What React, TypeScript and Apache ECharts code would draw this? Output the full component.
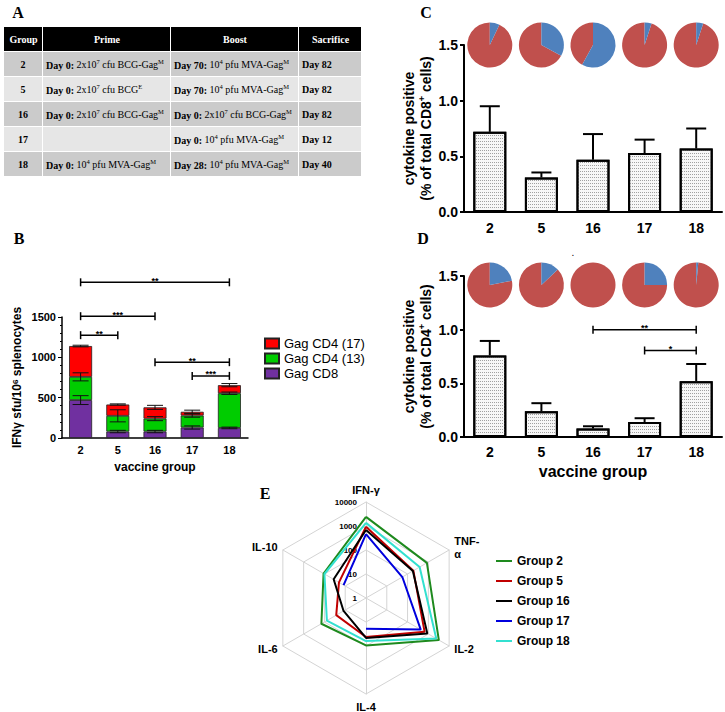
import React, { useEffect, useRef } from 'react';
import * as echarts from 'echarts';

// ---------- shared ----------
const groupLabels = ['2', '5', '16', '17', '18'];

// ---------- Panel A (table) ----------
const tableHeader = ['Group', 'Prime', 'Boost', 'Sacrifice'];
const tableGroup = ['2', '5', '16', '17', '18'];
const tablePrime = [
  '{b|Day 0:} 2x10{s|7} cfu BCG-Gag{s|M}',
  '{b|Day 0:} 2x10{s|7} cfu BCG{s|E}',
  '{b|Day 0:} 2x10{s|7} cfu BCG-Gag{s|M}',
  '',
  '{b|Day 0:} 10{s|4} pfu MVA-Gag{s|M}',
];
const tableBoost = [
  '{b|Day 70:} 10{s|4} pfu MVA-Gag{s|M}',
  '{b|Day 70:} 10{s|4} pfu MVA-Gag{s|M}',
  '{b|Day 0:} 2x10{s|7} cfu BCG-Gag{s|M}',
  '{b|Day 0:} 10{s|4} pfu MVA-Gag{s|M}',
  '{b|Day 28:} 10{s|4} pfu MVA-Gag{s|M}',
];
const tableSacrifice = ['Day 82', 'Day 82', 'Day 82', 'Day 12', 'Day 40'];

// ---------- Panel B ----------
const bLegend = ['Gag CD4 (17)', 'Gag CD4 (13)', 'Gag CD8'];
const bCD8 = [470, 80, 80, 130, 125];
const bCD4_13 = [288, 195, 160, 148, 430];
const bCD4_17 = [382, 140, 140, 47, 100];
const bCD8Err = [55, 15, 15, 20, 10];
const bCD4_13Err = [50, 75, 25, 20, 15];
const bCD4_17Err = [10, 8, 25, 20, 20];
const bSigFrom = [0, 0, 0, 2, 3];
const bSigTo = [4, 2, 1, 4, 4];
const bSigLevel = [1930, 1510, 1275, 940, 770];
const bSigLabel = ['**', '***', '**', '**', '***'];

// ---------- Panel C ----------
const cVals = [0.72, 0.31, 0.47, 0.53, 0.57];
const cErr = [0.23, 0.045, 0.23, 0.12, 0.18];
const cBlueShare = [0.07, 0.33, 0.58, 0.05, 0.05];

// ---------- Panel D ----------
const dVals = [0.76, 0.24, 0.08, 0.14, 0.52];
const dErr = [0.135, 0.075, 0.02, 0.035, 0.16];
const dBlueShare = [0.22, 0.13, 0, 0.25, 0.015];
const dSigFrom = [2, 3];
const dSigTo = [4, 4];
const dSigLevel = [1.0, 0.806];
const dSigLabel = ['**', '*'];

// ---------- Panel E ----------
const eAxes = ['IFN-γ', 'TNF-\nα', 'IL-2', 'IL-4', 'IL-6', 'IL-10'];
const eGroups = ['Group 2', 'Group 5', 'Group 16', 'Group 17', 'Group 18'];
const eGroup2 = [2400, 850, 3200, 95, 140, 110];
const eGroup5 = [930, 190, 660, 42, 27, 20];
const eGroup16 = [680, 180, 890, 46, 12, 36];
const eGroup17 = [460, 56, 430, 19, null, 12];
const eGroup18 = [1350, 380, 2400, 62, 76, 100];

const SANS = 'Liberation Sans, Arial, Helvetica, sans-serif';
const SERIF = 'Liberation Serif, Times New Roman, serif';

function buildTableGraphics(): any[] {
  const els: any[] = [];
  const colX = [4, 43, 171, 299, 362];
  const headerTop = 27;
  const headerH = 24;
  for (let c = 0; c < 4; c++) {
    els.push({
      type: 'rect',
      shape: { x: colX[c], y: headerTop, width: colX[c + 1] - colX[c] - 1, height: headerH },
      style: { fill: '#000' },
    });
    els.push({
      type: 'text',
      x: (colX[c] + colX[c + 1]) / 2,
      y: headerTop + headerH / 2,
      style: {
        text: tableHeader[c],
        fill: '#fff',
        fontFamily: SERIF,
        fontWeight: 'bold',
        fontSize: 10,
        align: 'center',
        verticalAlign: 'middle',
      },
    });
  }
  const rich = {
    b: { fontFamily: SERIF, fontWeight: 'bold', fontSize: 10, fill: '#000', verticalAlign: 'bottom', lineHeight: 12 },
    s: { fontFamily: SERIF, fontSize: 6.5, fill: '#000', verticalAlign: 'top', lineHeight: 12 },
  };
  tableGroup.forEach((g, r) => {
    const top = 52 + r * 25;
    const fill = r % 2 === 0 ? '#cbcbcb' : '#e6e6e6';
    for (let c = 0; c < 4; c++) {
      els.push({
        type: 'rect',
        shape: { x: colX[c], y: top, width: colX[c + 1] - colX[c] - 1, height: 24 },
        style: { fill },
      });
    }
    const cy = top + 12;
    els.push({
      type: 'text', x: 23, y: cy,
      style: { text: g, fontFamily: SERIF, fontWeight: 'bold', fontSize: 10, fill: '#000', align: 'center', verticalAlign: 'middle' },
    });
    const cells = [tablePrime[r], tableBoost[r]];
    cells.forEach((t, k) => {
      if (!t) return;
      els.push({
        type: 'text', x: colX[k + 1] + 3, y: cy,
        style: { text: t, rich, fontFamily: SERIF, fontSize: 10, fill: '#000', align: 'left', verticalAlign: 'middle', lineHeight: 12 },
      });
    });
    els.push({
      type: 'text', x: colX[3] + 3, y: cy,
      style: { text: tableSacrifice[r], fontFamily: SERIF, fontWeight: 'bold', fontSize: 10, fill: '#000', align: 'left', verticalAlign: 'middle' },
    });
  });
  return els;
}

function letter(t: string, x: number, y: number) {
  return {
    type: 'text', x, y,
    style: { text: t, fontFamily: SERIF, fontWeight: 'bold', fontSize: 16, fill: '#000', align: 'center', verticalAlign: 'middle' },
  };
}

const upErrRender = (params: any, api: any) => {
  const i = api.value(0);
  const v = api.value(1);
  const e = api.value(2);
  const base = api.coord([i, v]);
  const top = api.coord([i, v + e]);
  const st = { stroke: '#000', lineWidth: 2 };
  return {
    type: 'group',
    children: [
      { type: 'line', shape: { x1: base[0], y1: base[1], x2: top[0], y2: top[1] }, style: st },
      { type: 'line', shape: { x1: top[0] - 10, y1: top[1], x2: top[0] + 10, y2: top[1] }, style: st },
    ],
  };
};

const bothErrRender = (params: any, api: any) => {
  const i = api.value(0);
  const v = api.value(1);
  const e = api.value(2);
  const lo = api.coord([i, v - e]);
  const hi = api.coord([i, v + e]);
  const st = { stroke: '#111', lineWidth: 1 };
  return {
    type: 'group',
    children: [
      { type: 'line', shape: { x1: lo[0], y1: lo[1], x2: hi[0], y2: hi[1] }, style: st },
      { type: 'line', shape: { x1: lo[0] - 8, y1: lo[1], x2: lo[0] + 8, y2: lo[1] }, style: st },
      { type: 'line', shape: { x1: hi[0] - 8, y1: hi[1], x2: hi[0] + 8, y2: hi[1] }, style: st },
    ],
  };
};

const bracketRender = (labels: string[], fs: number) => (params: any, api: any) => {
  const a = api.coord([api.value(0), api.value(2)]);
  const b = api.coord([api.value(1), api.value(2)]);
  const st = { stroke: '#000', lineWidth: 1.5 };
  return {
    type: 'group',
    children: [
      { type: 'line', shape: { x1: a[0], y1: a[1], x2: b[0], y2: b[1] }, style: st },
      { type: 'line', shape: { x1: a[0], y1: a[1] - 4, x2: a[0], y2: a[1] + 4 }, style: st },
      { type: 'line', shape: { x1: b[0], y1: b[1] - 4, x2: b[0], y2: b[1] + 4 }, style: st },
      {
        type: 'text',
        style: {
          text: labels[params.dataIndex], x: (a[0] + b[0]) / 2, y: a[1] + 3,
          align: 'center', verticalAlign: 'bottom', fontSize: fs, fontWeight: 'bold', fontFamily: SANS, fill: '#000',
        },
      },
    ],
  };
};

const pieRender = (level: number) => (params: any, api: any) => {
  const i = api.value(0);
  const f = api.value(1);
  const c = api.coord([i, level]);
  const r = 22.5;
  const start = -Math.PI / 2;
  const mid = start + 2 * Math.PI * f;
  const children: any[] = [
    { type: 'sector', shape: { cx: c[0], cy: c[1], r, r0: 0, startAngle: mid, endAngle: start + 2 * Math.PI, clockwise: true }, style: { fill: '#c0504d' } },
  ];
  if (f > 0) {
    children.push({ type: 'sector', shape: { cx: c[0], cy: c[1], r, r0: 0, startAngle: start, endAngle: mid, clockwise: true }, style: { fill: '#4f81bd' } });
  }
  return { type: 'group', children };
};

function buildOption(): any {
  const bold = { fontWeight: 'bold', color: '#000', fontFamily: SANS };
  const sup = { fontSize: 9, fontWeight: 'bold', verticalAlign: 'top', fontFamily: SANS, color: '#000' };

  const bErrData: number[][] = [];
  groupLabels.forEach((_, i) => {
    const t1 = bCD8[i];
    const t2 = t1 + bCD4_13[i];
    const t3 = t2 + bCD4_17[i];
    bErrData.push([i, t1, bCD8Err[i]], [i, t2, bCD4_13Err[i]], [i, t3, bCD4_17Err[i]]);
  });

  const barDecal = { symbol: 'rect', symbolSize: 1, dashArrayX: [1, 1], dashArrayY: [1, 2], color: '#a0a0a0' };
  const cdBarStyle = { color: '#f7f7f7', borderColor: '#000', borderWidth: 2, decal: barDecal };

  const radarOrder = [0, 5, 4, 3, 2, 1];
  const eData = [eGroup2, eGroup5, eGroup16, eGroup17, eGroup18];
  const eColors = ['#1e8a1e', '#c00000', '#000000', '#0000dd', '#33e0d0'];

  const polarData = (vals: (number | null)[]) => {
    const pts: any[] = vals.map((v, i) => [v == null ? '-' : Math.log10(v), i * 60]);
    pts.push([vals[0] == null ? '-' : Math.log10(vals[0] as number), 360]);
    return pts;
  };

  const yAxisCommon = (name: string, gi: number, fs: number) => ({
    type: 'value', gridIndex: gi, min: 0, max: 1.5, interval: 0.5,
    axisLine: { show: true, lineStyle: { color: '#000', width: 2 } },
    axisTick: { show: true, length: 4, lineStyle: { color: '#000', width: 2 } },
    splitLine: { show: false },
    axisLabel: { ...bold, fontSize: 14, margin: 6, formatter: (v: number) => v.toFixed(1) },
    name,
    nameLocation: 'middle',
    nameRotate: 90,
    nameGap: 24,
    nameTextStyle: { ...bold, fontSize: fs, lineHeight: 17, rich: { s: { ...sup, fontSize: 9 } } },
  });

  return {
    animation: false,
    backgroundColor: '#fff',
    textStyle: { fontFamily: SANS },
    grid: [
      { left: 62, top: 317, width: 186, height: 121 },
      { left: 464, top: 45, width: 258, height: 167 },
      { left: 464, top: 276, width: 258, height: 161 },
    ],
    xAxis: [
      {
        type: 'category', gridIndex: 0, data: groupLabels,
        axisLine: { lineStyle: { color: '#000', width: 1.5 } },
        axisTick: { alignWithLabel: true, length: 4, lineStyle: { color: '#000' } },
        axisLabel: { ...bold, fontSize: 11, margin: 6 },
        name: 'vaccine group', nameLocation: 'middle', nameGap: 23,
        nameTextStyle: { ...bold, fontSize: 12 },
      },
      {
        type: 'category', gridIndex: 1, data: groupLabels,
        axisLine: { lineStyle: { color: '#000', width: 2 } },
        axisTick: { alignWithLabel: true, length: 5, lineStyle: { color: '#000', width: 2 } },
        axisLabel: { ...bold, fontSize: 14, margin: 9 },
      },
      {
        type: 'category', gridIndex: 2, data: groupLabels,
        axisLine: { lineStyle: { color: '#000', width: 2 } },
        axisTick: { alignWithLabel: true, length: 5, lineStyle: { color: '#000', width: 2 } },
        axisLabel: { ...bold, fontSize: 14, margin: 8 },
        name: 'vaccine group', nameLocation: 'middle', nameGap: 26,
        nameTextStyle: { ...bold, fontSize: 16 },
      },
    ],
    yAxis: [
      {
        type: 'value', gridIndex: 0, min: 0, max: 1500, interval: 500,
        axisLine: { show: true, lineStyle: { color: '#000', width: 1.5 } },
        axisTick: { show: true, length: 4, lineStyle: { color: '#000' } },
        minorTick: { show: true, splitNumber: 5, length: 2, lineStyle: { color: '#000' } },
        splitLine: { show: false },
        axisLabel: { ...bold, fontSize: 11, margin: 6, formatter: (v: number) => String(v) },
        name: 'IFNγ sfu/10{s|6} splenocytes', nameLocation: 'middle', nameRotate: 90, nameGap: 39,
        nameTextStyle: { ...bold, fontSize: 12, rich: { s: { ...sup, fontSize: 8 } } },
      },
      yAxisCommon('cytokine positive\n(% of total CD8{s|+} cells)', 1, 14),
      yAxisCommon('cytokine positive\n(% of total CD4{s|+} cells)', 2, 14),
    ],
    radar: {
      center: [366, 598], radius: 96, startAngle: 90, splitNumber: 4, shape: 'polygon',
      indicator: radarOrder.map((k, idx) => {
        const ind: any = { name: eAxes[k], min: 0, max: 4 };
        if (idx === 0) {
          ind.axisLabel = {
            show: true, fontSize: 8, fontWeight: 'bold', color: '#000', margin: 9,
            formatter: (v: number) => String(Math.round(Math.pow(10, v))),
          };
        }
        return ind;
      }),
      nameGap: 6,
      axisName: { color: '#000', fontWeight: 'bold', fontSize: 11, fontFamily: SANS, lineHeight: 13 },
      splitArea: { show: false },
      splitLine: { lineStyle: { color: '#d4d4d4', width: 1 } },
      axisLine: { lineStyle: { color: '#d4d4d4', width: 1 } },
      axisLabel: { show: false },
    },
    polar: { center: [366, 598], radius: 96 },
    angleAxis: { type: 'value', min: 0, max: 360, startAngle: 90, clockwise: true, show: false },
    radiusAxis: { type: 'value', min: 0, max: 4, show: false },
    legend: [
      {
        data: bLegend, orient: 'vertical', left: 259, top: 332, icon: 'rect',
        itemWidth: 14, itemHeight: 10, itemGap: 2, selectedMode: false,
        textStyle: { fontSize: 13, color: '#000', fontFamily: SANS },
      },
      {
        data: eGroups, orient: 'vertical', left: 491, top: 549, icon: 'rect',
        itemWidth: 16, itemHeight: 2, itemGap: 6, selectedMode: false,
        textStyle: { fontSize: 12, fontWeight: 'bold', color: '#000', fontFamily: SANS, lineHeight: 14 },
      },
    ],
    series: [
      // Panel B stacked bars
      {
        name: 'Gag CD8', type: 'bar', xAxisIndex: 0, yAxisIndex: 0, stack: 'b', barWidth: 23,
        data: bCD8, itemStyle: { color: '#7030a0', borderColor: '#222', borderWidth: 0.8 },
      },
      {
        name: 'Gag CD4 (13)', type: 'bar', xAxisIndex: 0, yAxisIndex: 0, stack: 'b', barWidth: 23,
        data: bCD4_13, itemStyle: { color: '#00cc00', borderColor: '#222', borderWidth: 0.8 },
      },
      {
        name: 'Gag CD4 (17)', type: 'bar', xAxisIndex: 0, yAxisIndex: 0, stack: 'b', barWidth: 23,
        data: bCD4_17, itemStyle: { color: '#ff0000', borderColor: '#222', borderWidth: 0.8 },
      },
      {
        type: 'custom', xAxisIndex: 0, yAxisIndex: 0, renderItem: bothErrRender, data: bErrData, z: 5,
      },
      {
        type: 'custom', xAxisIndex: 0, yAxisIndex: 0, renderItem: bracketRender(bSigLabel, 9), z: 5,
        data: bSigFrom.map((f, i) => [f, bSigTo[i], bSigLevel[i]]),
      },
      // Panel C
      {
        type: 'bar', xAxisIndex: 1, yAxisIndex: 1, barWidth: 33, data: cVals, itemStyle: cdBarStyle,
      },
      {
        type: 'custom', xAxisIndex: 1, yAxisIndex: 1, renderItem: upErrRender, z: 5,
        data: cVals.map((v, i) => [i, v, cErr[i]]),
      },
      {
        type: 'custom', xAxisIndex: 1, yAxisIndex: 1, renderItem: pieRender(1.5), z: 5,
        data: cBlueShare.map((f, i) => [i, f]),
      },
      // Panel D
      {
        type: 'bar', xAxisIndex: 2, yAxisIndex: 2, barWidth: 33, data: dVals, itemStyle: cdBarStyle,
      },
      {
        type: 'custom', xAxisIndex: 2, yAxisIndex: 2, renderItem: upErrRender, z: 5,
        data: dVals.map((v, i) => [i, v, dErr[i]]),
      },
      {
        type: 'custom', xAxisIndex: 2, yAxisIndex: 2, renderItem: pieRender(1.417), z: 5,
        data: dBlueShare.map((f, i) => [i, f]),
      },
      {
        type: 'custom', xAxisIndex: 2, yAxisIndex: 2, renderItem: bracketRender(dSigLabel, 9), z: 5,
        data: dSigFrom.map((f, i) => [f, dSigTo[i], dSigLevel[i]]),
      },
      // Panel E
      ...eGroups.map((name, k) => ({
        name, type: 'line', coordinateSystem: 'polar', polarIndex: 0,
        data: polarData(eData[k]), symbol: 'none', connectNulls: false, z: 10,
        lineStyle: { width: 2, color: eColors[k] }, itemStyle: { color: eColors[k] },
      })),
    ],
    graphic: [
      ...buildTableGraphics(),
      letter('A', 18, 12),
      letter('B', 19, 238),
      letter('C', 426, 12),
      letter('D', 423, 238),
      letter('E', 265, 493),
      {
        type: 'text', x: 573, y: 252,
        style: { text: '.', fontSize: 10, fill: '#000', align: 'center', verticalAlign: 'middle' },
      },
    ],
  };
}

export default function App() {
  const ref = useRef<HTMLDivElement>(null);
  useEffect(() => {
    const chart = echarts.init(ref.current as HTMLDivElement, null, { renderer: 'svg' });
    chart.setOption(buildOption());
    return () => chart.dispose();
  }, []);
  return (
    <div
      ref={ref}
      style={{ position: 'absolute', left: 0, top: 0, width: 725, height: 712, background: '#fff' }}
    />
  );
}
